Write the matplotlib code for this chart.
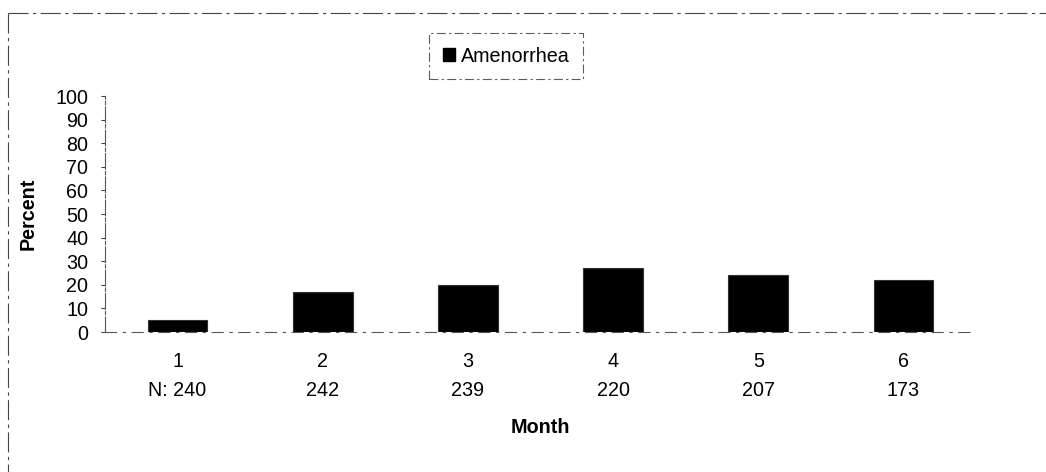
import matplotlib
matplotlib.use("Agg")
import matplotlib.pyplot as plt
from matplotlib.patches import Patch
from matplotlib.lines import Line2D

plt.rcParams['font.family'] = ['Liberation Sans', 'DejaVu Sans']

months = ["1", "2", "3", "4", "5", "6"]
n_labels = ["N: 240", "242", "239", "220", "207", "173"]
amenorrhea = [5, 17, 20, 27, 24, 22]
y_ticks = [0, 10, 20, 30, 40, 50, 60, 70, 80, 90, 100]

FS = 14.2
W, H = 1046, 472
fig = plt.figure(figsize=(W / 100, H / 100), dpi=100)
ax = fig.add_axes([105 / W, 1 - 332 / H, 871 / W, 236 / H])

x = list(range(len(months)))
ax.bar(x, amenorrhea, width=0.41, color="black", edgecolor="#333333", linewidth=0.8)

ax.set_xlim(-0.5, len(months) - 0.5)
ax.set_ylim(0, 100)
ax.set_yticks(y_ticks)
ax.set_yticklabels([str(t) for t in y_ticks], fontsize=FS)
ax.tick_params(axis='y', length=3, width=0.8, pad=9, color="#444444")
ax.set_xticks([])

for s in ["top", "right"]:
    ax.spines[s].set_visible(False)
ax.spines["left"].set_color("#555555")
ax.spines["left"].set_linewidth(0.8)
ax.spines["left"].set_linestyle((0, (14, 2, 3, 2)))
ax.spines["bottom"].set_color("#555555")
ax.spines["bottom"].set_linewidth(0.8)
ax.spines["bottom"].set_linestyle((0, (10, 6, 2, 6)))

tr = ax.get_xaxis_transform()
for xi, m, n in zip(x, months, n_labels):
    ax.text(xi, -0.127, m, transform=tr, ha="center", va="center", fontsize=FS)
    ax.text(xi, -0.246, n, transform=tr, ha="center", va="center", fontsize=FS)

ax.text(0.5, -0.405, "Month", transform=ax.transAxes, ha="center", va="center",
        fontsize=FS, fontweight="bold")
ax.text(-0.088, 0.5, "Percent", transform=ax.transAxes, ha="center", va="center",
        rotation=90, fontsize=FS, fontweight="bold")

leg = fig.legend(handles=[Patch(facecolor="black", edgecolor="black", label="Amenorrhea")],
                 loc="center", bbox_to_anchor=(506 / W, 1 - 56 / H), frameon=True,
                 fontsize=FS, handlelength=0.6, handleheight=0.6, handletextpad=0.3,
                 borderpad=0.7, borderaxespad=0, fancybox=False)
leg.get_frame().set_edgecolor("#333333")
leg.get_frame().set_linewidth(0.8)
leg.get_frame().set_linestyle((0, (8, 3, 2, 3)))

border_style = dict(transform=fig.transFigure, color="#444444", linewidth=0.8,
                    linestyle=(0, (18, 4, 3, 4)))
fig.add_artist(Line2D([8 / W, 1.0], [1 - 13 / H, 1 - 13 / H], **border_style))
fig.add_artist(Line2D([8 / W, 8 / W], [1 - 13 / H, 0.0], **border_style))

fig.savefig("out.png", dpi=100)
